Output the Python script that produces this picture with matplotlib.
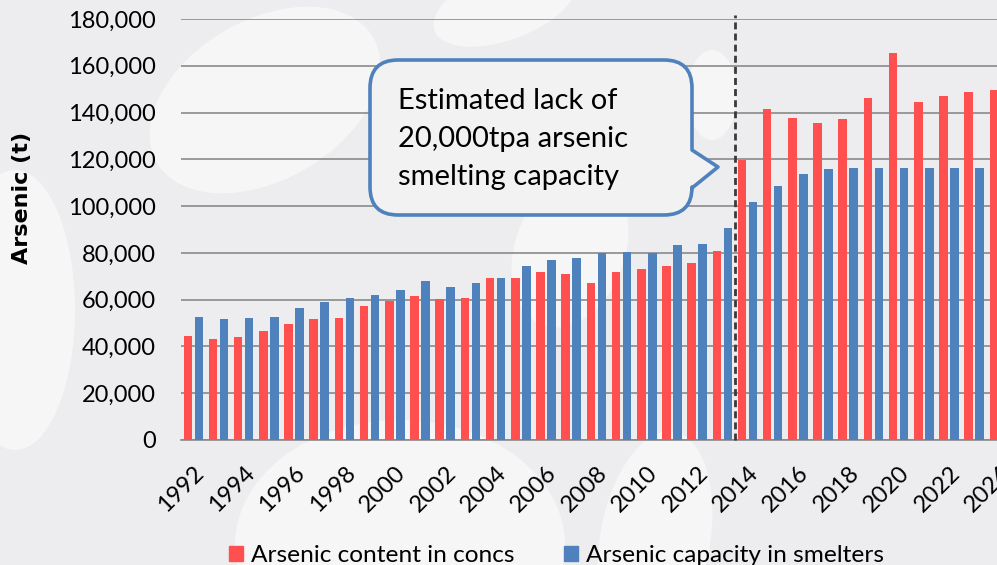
import matplotlib
matplotlib.use("Agg")
import matplotlib.pyplot as plt
import numpy as np
from matplotlib.path import Path
from matplotlib.patches import PathPatch, Ellipse, Patch
from matplotlib.ticker import FuncFormatter

years = list(range(1992, 2025))
concs = [44400, 43200, 43900, 46400, 49700, 51600, 52300, 57100, 59300, 61500,
         60100, 60700, 69200, 69400, 71800, 70900, 67100, 71900, 72900, 74500,
         75800, 80600, 119700, 141700, 137700, 135600, 137300, 146300, 165400,
         144600, 146900, 148600, 149700]
smelters = [52400, 51600, 52000, 52800, 56300, 59100, 60500, 61800, 64200, 67800,
            65500, 67000, 69200, 74200, 76800, 77900, 79900, 80300, 80000, 83300,
            83800, 90600, 101600, 108700, 113700, 115700, 116100, 116200, 116200,
            116400, 116400, 116400, 116400]
tick_years = years[::2]
forecast_start = 2014
callout_lines = ["Estimated lack of", "20,000tpa arsenic", "smelting capacity"]

red = "#FF4F4F"
blue = "#4F81BD"
bg = "#EDEDEF"
W, H = 997, 565

plt.rcParams["font.family"] = ["Lato", "DejaVu Sans"]

fig = plt.figure(figsize=(W / 100, H / 100), dpi=100, facecolor=bg)

# soft background shapes
back = fig.add_axes([0, 0, 1, 1], zorder=0)
back.set_xlim(0, W)
back.set_ylim(H, 0)
back.axis("off")
for (cx, cy, w, h, a) in [(265, 100, 250, 160, -30), (505, 5, 150, 70, -20),
                          (15, 310, 120, 280, 0), (400, 545, 330, 250, 0),
                          (655, 540, 110, 220, 10), (570, 250, 110, 160, 20),
                          (712, 95, 50, 90, 0)]:
    back.add_patch(Ellipse((cx, cy), w, h, angle=a, color="#F6F6F7", lw=0))

# main chart axes (right edge runs past the figure)
left, right, bottom, top = 180.7, 1012.0, 440.0, 19.0
ax = fig.add_axes([left / W, (H - bottom) / H, (right - left) / W, (bottom - top) / H], zorder=1)
ax.set_facecolor("none")

x = np.arange(len(years))
bw = 0.34
off = 0.218
ax.bar(x - off, concs, bw, color=red, zorder=3)
ax.bar(x + off, smelters, bw, color=blue, zorder=3)

ax.set_xlim(-0.5, len(years) - 0.5)
ax.set_ylim(0, 180000)
ax.set_yticks(np.arange(0, 180001, 20000))
ax.yaxis.set_major_formatter(FuncFormatter(lambda v, p: f"{int(v):,}"))
ax.grid(axis="y", color="#8A8A8A", lw=1.2, zorder=1)
ax.set_axisbelow(True)
for s in ["top", "right", "left"]:
    ax.spines[s].set_visible(False)
ax.spines["bottom"].set_color("#8A8A8A")
ax.spines["bottom"].set_linewidth(1.2)
ax.tick_params(axis="y", length=0, pad=18, labelsize=17)
ax.tick_params(axis="x", length=0, pad=16, labelsize=17)
ax.set_xticks(x[::2])
ax.set_xticklabels([str(y) for y in tick_years], rotation=45, ha="right",
                   va="top", rotation_mode="anchor")

# divider between history and forecast
ax.axvline(years.index(forecast_start) - 0.5, ymin=0, ymax=1.01, color="#3A3A3A",
           ls=(0, (2.5, 1.5)), lw=2, zorder=4, clip_on=False)

fig.text(22 / W, 1 - 197.5 / H, "Arsenic (t)", rotation=90, ha="center", va="center",
         fontsize=16, fontweight="bold", family="DejaVu Sans")

handles = [Patch(color=red, label="Arsenic content in concs"),
           Patch(color=blue, label="Arsenic capacity in smelters")]
fig.legend(handles=handles, loc="center left", bbox_to_anchor=(229 / W, 1 - 556 / H),
           ncol=2, frameon=False, fontsize=17.6, handlelength=0.58, handleheight=0.58,
           handletextpad=0.3, columnspacing=2.05, borderpad=0, borderaxespad=0)

# callout bubble
top_ax = fig.add_axes([0, 0, 1, 1], zorder=5)
top_ax.set_xlim(0, W)
top_ax.set_ylim(H, 0)
top_ax.axis("off")
L, R, T, B, r = 370, 692, 60, 215, 28
verts = [(L + r, T), (R - r, T), (R, T), (R, T + r), (R, 150), (718, 167), (R, 188),
         (R, B - r), (R, B), (R - r, B), (L + r, B), (L, B), (L, B - r), (L, T + r),
         (L, T), (L + r, T), (L + r, T)]
codes = [Path.MOVETO, Path.LINETO, Path.CURVE3, Path.CURVE3, Path.LINETO, Path.LINETO,
         Path.LINETO, Path.LINETO, Path.CURVE3, Path.CURVE3, Path.LINETO, Path.CURVE3,
         Path.CURVE3, Path.LINETO, Path.CURVE3, Path.CURVE3, Path.CLOSEPOLY]
top_ax.add_patch(PathPatch(Path(verts, codes), facecolor="#F2F2F2", edgecolor=blue,
                           lw=2.6, joinstyle="round"))
for i, line in enumerate(callout_lines):
    top_ax.text(398, 109 + 38 * i, line, fontsize=21, ha="left", va="baseline")

fig.savefig("out.png", dpi=100, facecolor=bg)
